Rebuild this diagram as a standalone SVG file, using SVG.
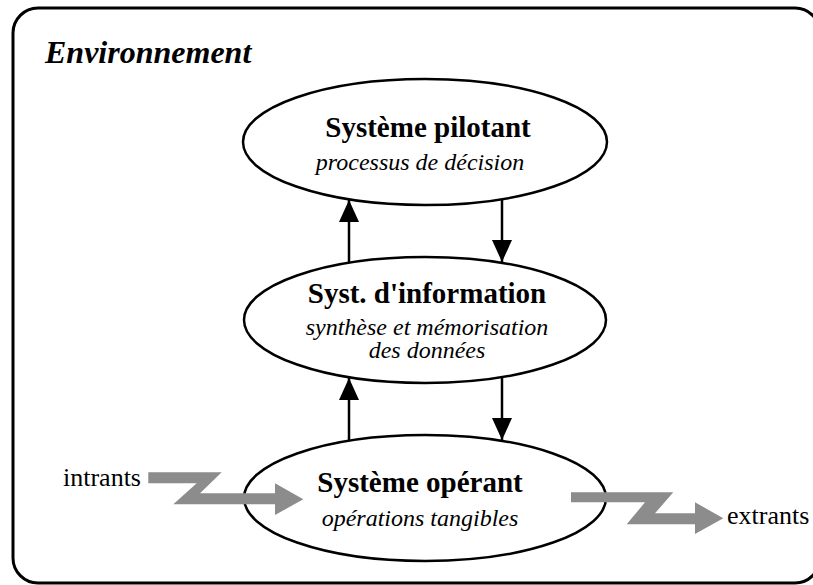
<svg xmlns="http://www.w3.org/2000/svg" width="813" height="585" viewBox="0 0 813 585">
<style>
.node{fill:#fff;stroke:#000;stroke-width:2.5}
.t{font-family:"Liberation Serif","Times New Roman",serif;fill:#000;text-anchor:middle}
.b{font-weight:bold;font-size:29px}
.i{font-style:italic;font-size:24px}
.conn{stroke:#000;stroke-width:2.5;fill:none}
.flow{fill:#8c8c8c;stroke:none}
</style>
<defs>
<marker id="ah" markerUnits="userSpaceOnUse" markerWidth="22" markerHeight="20" refX="22" refY="10" orient="auto">
<path d="M0,0 L22,10 L0,20 z" fill="#000"/>
</marker>
</defs>
<rect width="813" height="585" fill="#fff"/>
<g id="environnement">
<rect x="13" y="8" width="807" height="575" rx="25" ry="25" fill="none" stroke="#000" stroke-width="3"/>
<text x="45" y="63" style="font-family:'Liberation Serif','Times New Roman',serif;font-weight:bold;font-style:italic;font-size:32px">Environnement</text>
</g>
<g id="pilotant">
<ellipse class="node" cx="425" cy="142" rx="182" ry="63"/>
<text class="t b" x="428" y="137">Système pilotant</text>
<text class="t i" x="420" y="170">processus de décision</text>
</g>
<g id="information">
<ellipse class="node" cx="425" cy="320" rx="181" ry="63"/>
<text class="t b" x="427" y="303">Syst. d'information</text>
<text class="t i" x="427" y="335">synthèse et mémorisation</text>
<text class="t i" x="427" y="358">des données</text>
</g>
<g id="operant">
<ellipse class="node" cx="425" cy="498" rx="181" ry="63"/>
<text class="t b" x="420" y="492">Système opérant</text>
<text class="t i" x="420" y="526">opérations tangibles</text>
</g>
<g id="connectors">
<line class="conn" x1="349" y1="263" x2="349" y2="200" marker-end="url(#ah)"/>
<line class="conn" x1="502" y1="199" x2="502" y2="262" marker-end="url(#ah)"/>
<line class="conn" x1="349" y1="441" x2="349" y2="378" marker-end="url(#ah)"/>
<line class="conn" x1="502" y1="377" x2="502" y2="440" marker-end="url(#ah)"/>
<polygon class="flow" points="148.3,472.3 221.7,472.3 200,493.3 275,493.3 275,483.3 303.3,499.3 275,515 275,504.3 173.3,504.3 196.7,483.3 148.3,483.3"/>
<polygon class="flow" points="571,492.3 673.3,492.3 655,513.3 695,513.3 695,502.3 723.3,518.3 695,534 695,524.3 626.7,524.3 645,502.3 571,502.3"/>
</g>
<g id="intrants">
<text x="63" y="486" style="font-family:'Liberation Serif','Times New Roman',serif;font-size:26px">intrants</text>
</g>
<g id="extrants">
<text x="727" y="524" style="font-family:'Liberation Serif','Times New Roman',serif;font-size:26px">extrants</text>
</g>
</svg>
